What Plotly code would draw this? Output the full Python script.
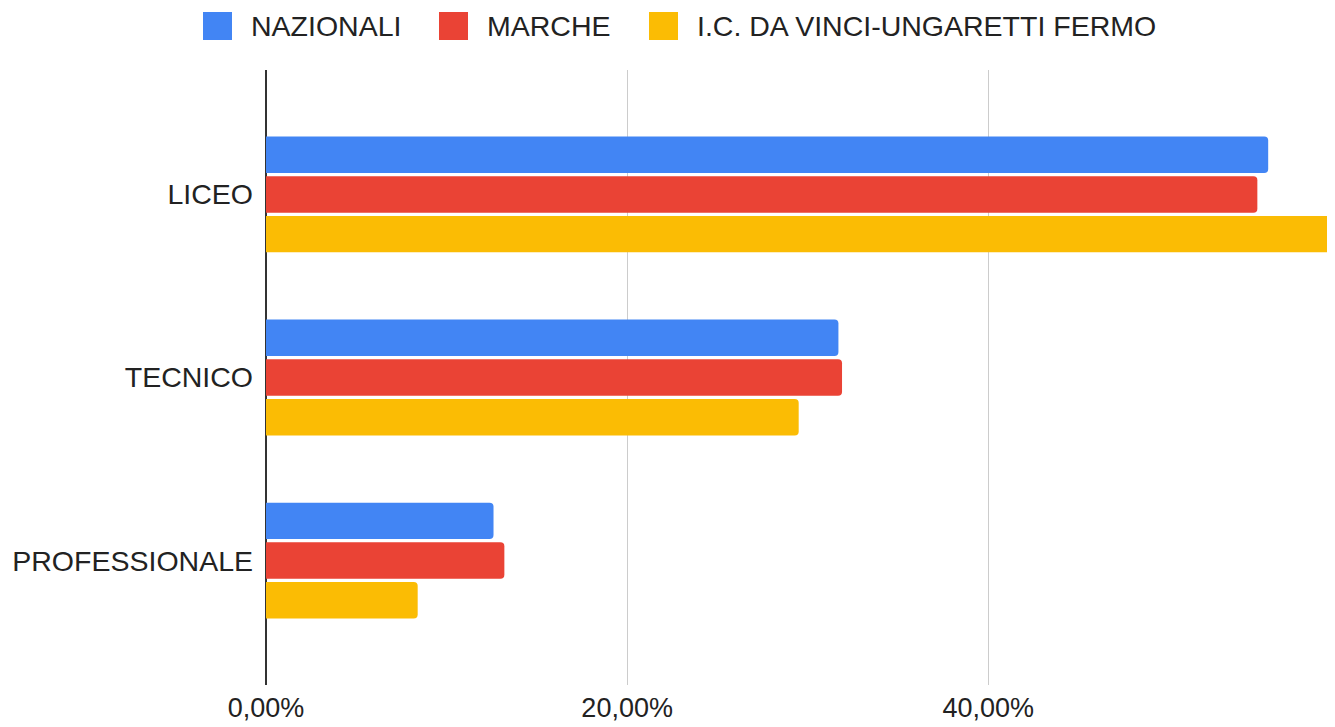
import plotly.graph_objects as go

categories = ["LICEO", "TECNICO", "PROFESSIONALE"]
nazionali = [55.5, 31.7, 12.6]
marche = [54.9, 31.9, 13.2]
fermo = [62.5, 29.5, 8.4]
x_ticks = [0, 20, 40]
x_tick_text = [("%.2f%%" % v).replace(".", ",") for v in x_ticks]

series = [
    ("NAZIONALI", nazionali, "#4285f4"),
    ("MARCHE", marche, "#ea4335"),
    ("I.C. DA VINCI-UNGARETTI FERMO", fermo, "#fbbc04"),
]

# the page body has an 8px margin, so the figure is drawn 8px smaller
# and everything below is in figure pixels (screen pixels - 8)
W, H = 1327, 719
L, R, T, B = 258, 1327, 62, 677
def px(x):
    return (x - L) / (R - L)
def py(y):
    return (B - y) / (B - T)

fig = go.Figure()
for name, vals, color in series:
    fig.add_trace(go.Bar(y=categories, x=vals, name=name, orientation="h",
                         marker=dict(color=color, line=dict(width=0)),
                         showlegend=False))

# legend: swatch + label, like the sheets chart
legend_x = [195, 431, 641]
for (name, vals, color), lx in zip(series, legend_x):
    fig.add_shape(type="rect", xref="paper", yref="paper",
                  x0=px(lx), x1=px(lx + 29), y0=py(32), y1=py(4),
                  fillcolor=color, line=dict(width=0))
    fig.add_annotation(text=name, xref="paper", yref="paper",
                       x=px(lx + 46), y=py(18), xanchor="left", yanchor="middle",
                       showarrow=False, font=dict(size=28.5, color="#222222"))

fig.update_layout(
    width=W, height=H,
    barmode="group", bargap=0.35, bargroupgap=0.08, barcornerradius=4,
    plot_bgcolor="white", paper_bgcolor="white",
    font=dict(family="Liberation Sans", size=28.5, color="#222222"),
    margin=dict(l=L, r=W - R, t=T, b=H - B),
    xaxis=dict(range=[0, 59.2], tickmode="array", tickvals=x_ticks, ticktext=x_tick_text,
               tickfont=dict(size=27, color="#222222"),
               showgrid=True, gridcolor="#cccccc", gridwidth=1, zeroline=True,
               zerolinecolor="#333333", zerolinewidth=2, ticklabelstandoff=4,
               showline=False, automargin=False),
    yaxis=dict(range=[2.68, -0.68], ticklabelstandoff=12, showgrid=False,
               showline=False, zeroline=False, automargin=False,
               tickfont=dict(size=28.5, color="#222222")),
)

fig.write_html("out.html")
